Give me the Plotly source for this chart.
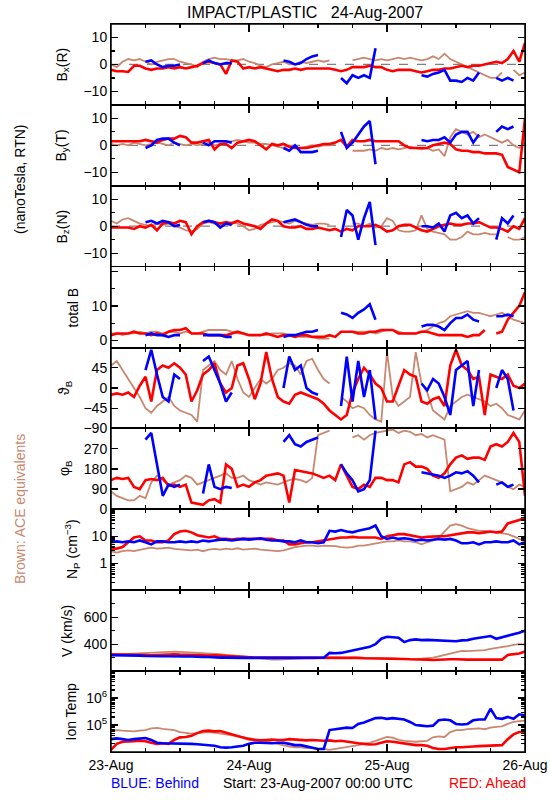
import pandas as pd
import plotly.graph_objects as go
from plotly.subplots import make_subplots

N = None
START = "2007-08-23 00:00"
END = "2007-08-26 00:00"
times = pd.date_range(START, periods=73, freq="h")

# ---------------- data (hourly, 23-Aug 00:00 .. 26-Aug 00:00) ----------------
bx_red = [-2,-2.5,-2.5,-2.8,-0.5,-0.5,-1.5,-2,-1.5,-1.5, -1,-1.5,-1,-1.5,-1,-0.5,0.5,1,0.5,0,
          -3.5,1.5,1,-1.5,-1,-1.5,-1,-1.5,-2,-2.5, -2,-2,-1.5,-2,-1.5,-1.5,-1.5,-1.5,-1.5,-2,
          -2.5,-2,-1,-1,-1,-0.5,-1,-1,-2,-2.5, -2,-2,-2,-2.5,-3,-2.5,-2,-2,-1.5,-1.5,
          -1,-0.5,-1,-0.5,-0.5,0,0.5,1,0.5,2, 5,1,8]
bx_blue = [N,N,N,N,N,N,1,1.5,0,-1, -0.5,-0.5,0,N,N,N,0.5,1.5,0.5,0,
           0.5,0.5,N,N,N,N,N,N,N,N, 1.5,1,0,0.5,2,3,3.5,N,N,N,
           -5,-7,-4,-5,-4,-5,6,N,N,N, N,N,N,N,-4,-4.5,-3.5,-3,-2,-6,
           -6,-6.5,-5,-6,-3,N,N,-5,-6,-5, -6,N,N]
bx_brown = [0,-1,1,2,1.5,2,1,0,1,1.5, 2,2,1,0.5,0,-1,1,2,2.5,2,
            2,1.5,1.5,2,1,0.5,-0.5,-1,0,0.5, 1,0,0,1,0.5,1,1.5,1,1.5,N,
            N,N,1.5,2,2.5,2,1.5,2,1.5,2, 2.5,2,2.5,2,1.5,2,3,2,4,2,
            1,0,-1,-2,-3,-4,-5,-5,-3,N, -2,-4,-3]

by_red = [1.5,1.5,1.5,1.5,1.5,1.5,2,1.5,1,2, 2.5,2.5,3.5,3,1,1,1.5,2,-1.5,0.5,
          0.5,-1,1,1.5,2,1.5,0,-1.5,0.5,0, 0.5,-0.5,-1,-1,-1,-0.5,0,0.5,0.5,1,
          2,-0.5,2,1.5,1.5,2,1.5,1.5,1.5,1.5, 1.5,0,-1,-1,-1,-1,0,0.5,1,0.5,
          -1.5,-2,-2,-2.5,-2.5,-3,-3,-3,-3.5,-8, -9,-10,10]
by_blue = [N,N,N,N,N,N,-1,0,2,2.5, 2.5,1,0,N,N,N,1,0,1.5,1.5,
           1.5,1,N,N,N,N,N,N,N,N, -1,-2,0,-2.5,-2.5,-2.5,-2,N,N,N,
           5,-1,1,4,7,9,-7,N,N,N, N,N,N,N,2,1.5,2,2,3,1,
           4,5,5,1,4,N,N,5,7,6, 7,N,N]
by_brown = [0.5,0,0.5,0,1,0.5,0,0.5,1,0.5, 0,1,0.5,0,0.5,0,0.5,1,0,0.5,
            1,1.5,2,1.5,1,1,0.5,0.5,0,-0.5, -1,0,-0.5,-1,-0.5,0,-0.5,0,0,0.5,
            N,N,-2,-2,-2,-1.5,-2,-1,-1.5,-1, -1.5,-1,-0.5,-1,-1.5,-1,-2,-1.5,-4,3,
            6,5,4,5,3,4,3,2,1,2, 0,-1,1]

bz_red = [-0.5,-0.5,-0.5,-0.5,-1,0,-0.5,0.5,-1.5,1, 1.5,1,2,1.5,-3,0,1.5,2,1.5,1,
          1.5,1,2,1,0.5,0,-1,1,2.5,2, 0,-0.5,-0.5,0,-1,-1,-0.5,-1,-1.5,-1,
          -2,-1,-1.5,0,0,0,0.5,-0.5,-2,-1.5, 0,0.5,0.5,-0.5,-1.5,-2,-1,0,0.5,1,
          0.5,0.5,1,1,1.5,0.5,-0.5,-0.5,-1,-2, 0,-1,3]
bz_blue = [N,N,N,N,N,N,1.5,2,1,2, 1.5,0,0.5,N,N,N,1.5,2,1.5,-0.5,
           1,0.5,N,N,N,N,N,N,N,N, 1.5,2,2.5,1.5,0.5,0,0,N,N,N,
           -4,6,4,-5,3,9,-7,N,N,N, N,N,N,N,0,0,-0.5,1,-2,4,
           5,3,4,1,3,N,N,-5,3,1, 4,N,N]
bz_brown = [2,1,2.5,3,2,1,0.5,0,1,0.5, 1,0,-0.5,-1.5,-2,-1,1,1.5,1,0.5,
            1,1.5,1,0,-1.5,-1,0.5,1,1.5,2, 1.5,1,2,1.5,1,0.5,1,1,0.5,N,
            N,N,1,1,0,1,-0.5,0,3,2, -1.5,-2,-2,-1.5,4,-1,-2,-2.5,-3,-5,
            -5,-4,-2,-3,-3,-2.5,-3,-3,N,-4, -5,-5,-4]

bt_red = [1.5,2,2,2,2.5,2,2,1.5,2,1.5, 2.5,3,3,3.5,2,2,2,1.5,1.5,1.5,
          1.5,2,2.5,2,1.5,1.5,1.5,2,1.5,1, 1.5,1.5,1,1.5,1.5,1,1,1,1.5,1,
          2.5,2.5,2.5,2,2,2.5,2.5,3,3,3, 2,2,2,2,2.5,2.5,2,1.5,1.5,1.5,
          1.5,1.5,1,1.5,1.5,3,N,2,2.5,6, 8,10,14]
bt_blue = [N,N,N,N,N,N,1.5,2,1.5,1.5, 1,1.5,1.5,N,N,N,1.5,1.5,1.5,1.5,
           1,1,N,N,N,N,N,N,N,N, 1,1.5,1.5,2,2.5,2.5,3,N,N,N,
           8,7.5,6.5,8,9,10.5,6,N,N,N, N,N,N,N,4,4.5,4.5,4,3,5,
           6.5,6.5,7.5,6,5.5,N,N,7,7,7.5, 7,N,N]
bt_brown = [2,2,1.5,2,2,2.5,2,2.5,2.5,2, 2.5,2.5,2,2.5,2,2,2.5,3,3,3,
            3,2.5,2,2,1.5,1.5,1.5,1.5,2,2, 2,1.5,1.5,1,1,1,0.5,0.5,0.5,N,
            N,N,2.5,2.5,2.5,2.5,2,2.5,3,3, 2.5,2,2,2,2.5,3,4,5,5.5,7,
            7.5,8,8.5,8,8,7.5,7,7.5,8,7, 6,5.5,5]

th_red = [-15,-12,-15,-10,-20,5,25,-30,40,50, 45,55,45,30,-30,-5,30,40,55,10,
          -10,0,50,55,20,-25,10,80,20,-20, -30,-35,-15,-10,-15,-20,-25,-35,-50,-60,
          -70,-60,-10,20,45,30,10,0,-30,-30, 5,40,30,25,-30,-35,-25,-20,-40,50,
          85,50,40,20,25,-60,30,25,20,30, 5,0,10]
th_blue = [N,N,N,N,N,N,40,85,30,-20, -30,30,20,N,N,N,60,70,40,10,
           -30,-10,N,N,N,N,N,N,N,N, 0,70,40,50,0,-10,-15,N,N,N,
           -40,70,-30,60,-20,40,-70,N,N,N, N,N,N,N,10,-5,20,10,-20,-60,
           40,50,60,-40,40,N,N,0,40,20, -50,N,N]
th_brown = [50,60,40,20,0,-20,-45,-55,-40,-30, -20,-40,-50,-55,-60,-75,40,50,60,40,
            30,60,20,-10,-20,0,20,10,20,40, 45,55,50,30,60,65,40,20,10,N,
            -20,-30,-45,-40,-45,-60,-70,-75,80,-20, -40,-30,-20,80,10,-10,-50,-60,-70,-40,
            -30,-20,-15,-20,-25,-30,-40,-35,-45,-60, -65,-70,-50]

ph_red = [130,140,135,140,100,90,130,135,130,140, 105,110,100,110,30,25,20,40,45,30,
          200,180,100,110,100,120,130,150,155,160, 150,30,175,170,165,160,150,140,150,130,
          200,150,100,90,110,100,140,140,130,130, 120,200,210,190,190,180,150,140,160,200,
          230,240,225,230,230,220,280,290,280,300, 340,300,60]
ph_blue = [N,N,N,N,N,N,310,340,200,60, 110,100,110,N,N,N,70,200,100,90,
           100,95,N,N,N,N,N,N,N,N, 300,330,290,280,300,310,320,N,N,N,
           200,160,130,80,90,130,350,N,N,N, N,N,N,N,165,160,155,150,140,150,
           165,160,170,150,120,N,N,110,120,100, 110,N,N]
ph_brown = [80,60,50,40,40,60,50,120,150,130, 110,120,130,150,140,110,120,130,140,150,
            160,140,140,150,130,120,110,120,115,110, 120,130,135,130,120,140,330,340,350,N,
            N,N,320,330,310,330,340,345,350,355, 340,350,345,330,335,320,330,320,310,80,
            90,100,120,110,130,150,140,130,120,100, 90,110,100]

np_red = [3.5,3.5,4,6,9,10,7,7,6,6, 7,12,15,16,14,11,10,9,10,8,
          8,7.5,8,8,8.5,8.5,8,8.5,8,7, 7,5,5,5.5,6,6,6.5,7,8,8.5,
          9,9,9.5,9,9,9,9,8,10,11, 12,12,11,10,9,9.5,10,10,10,11,
          12,13,14,14,13,14,15,14,15,30, 35,40,50]
np_blue = [6,6.5,6,6.5,6,7,6,5,6.5,6.5, 6,6,6.5,6,6.5,6,7,6.5,7,7.5,
           7.5,7,7.5,8,7.5,8,8.5,7.5,7,7, 6.5,6.5,6,7,6,6,5.5,6,16,15,
           17,15,14,16,18,20,25,10,8,9, 8,8.5,8,7,7.5,7,7.5,8,7.5,8,
           7,5.5,5.5,6,5,6,6,6.5,6,6, 7,5,6]
np_brown = [2.8,2.5,2.8,3,2.8,3.2,3.5,3.8,3.5,3.6, 3.8,3.4,3.2,3,3,3.2,2.8,3.2,3.4,3.2,
            3.5,3.3,3.6,3.2,3.3,3.5,3.2,3,2.8,2.8, 3,3.5,4,4.2,4.5,4.5,4.2,4.5,4.5,4.3,
            4,3.8,4,4.5,4.5,5,5.5,6,6.5,6.5, 7,6.5,6.5,6,5,6,7,9,15,25,
            28,25,20,18,16,16,15,14,13,12, 10,8,7]

v_red = [325,325,320,320,320,322,320,318,320,322, 325,325,322,320,320,318,318,315,318,315,
         310,308,305,305,302,300,300,300,298,298, 300,298,298,300,298,298,300,300,298,300,
         302,300,298,298,295,295,292,292,290,292, 292,290,288,288,285,285,282,285,285,288,
         288,285,285,285,285,285,285,285,285,320, 325,330,345]
v_blue = [318,318,315,315,318,315,312,310,310,310, 310,308,308,308,308,305,305,305,300,300,
          300,298,298,298,298,298,298,298,298,298, 298,298,298,298,298,298,300,300,335,332,
          335,345,350,365,375,380,400,440,455,450, 448,415,430,435,430,432,430,428,425,425,
          422,428,430,440,445,450,460,440,450,460, 470,485,500]
v_brown = [320,325,325,328,330,335,338,340,342,342, 345,345,342,340,340,338,335,330,328,325,
           320,318,315,310,305,300,292,290,285,285, 288,290,290,292,295,295,298,298,300,300,
           298,298,300,300,298,300,298,300,298,295, 292,290,288,290,292,295,300,310,320,330,
           345,350,348,350,352,355,365,370,380,385, 395,400,398]

t_red = [12000,20000,24000,24000,25000,26000,25000,22000,20000,21000,
         20000,28000,35000,36000,40000,50000,60000,62000,58000,60000,
         52000,45000,40000,33000,30000,28000,27000,28000,29000,28000,
         28000,30000,29000,28000,27000,28000,27000,26000,27000,25000,
         26000,24000,22000,21000,20000,19000,19500,22000,25000,24000,
         22000,21000,19000,18000,18000,17000,14000,13000,13000,14000,
         15000,15000,16000,16000,16500,17000,17000,17500,18000,30000,
         45000,55000,55000]
t_blue = [30000,32000,30000,28000,30000,32000,33000,28000,22000,21000,
          21000,20000,20000,20000,20000,19500,19000,18000,17000,15000,
          14500,15000,16000,17000,20000,22000,22000,21000,21000,22000,
          22000,20000,18000,18000,16000,14000,13000,13000,65000,70000,
          75000,80000,78000,110000,125000,150000,180000,185000,170000,180000,
          170000,160000,130000,100000,95000,90000,95000,150000,160000,150000,
          110000,105000,110000,150000,160000,160000,400000,180000,170000,200000,
          170000,250000,230000]
t_brown = [60000,65000,62000,60000,58000,62000,65000,75000,78000,72000,
           70000,65000,55000,50000,48000,50000,52000,55000,52000,48000,
           45000,40000,36000,35000,32000,30000,28000,25000,22000,20000,
           18000,16000,15000,15000,14000,14000,13000,13000,12000,13000,
           14000,15000,16000,18000,20000,22000,26000,30000,36000,34000,
           28000,26000,25000,24000,25000,26000,35000,38000,36000,55000,
           65000,65000,70000,72000,75000,70000,80000,85000,90000,110000,
           130000,140000,145000]

# log-axis minor tick positions
np_minor = [0.2,0.3,0.4,0.5,0.6,0.7,0.8,0.9, 2,3,4,5,6,7,8,9, 20,30,40,50,60,70,80,90]
t_minor = [2e4,3e4,4e4,5e4,6e4,7e4,8e4,9e4, 2e5,3e5,4e5,5e5,6e5,7e5,8e5,9e5,
           2e6,3e6,4e6,5e6,6e6,7e6,8e6,9e6]

# ---------------- figure ----------------
BROWN = "#C8876E"
RED = "#FF0000"
BLUE = "#0000FF"
FONT = "Liberation Sans"

panels = [
    (bx_brown, bx_red, bx_blue),
    (by_brown, by_red, by_blue),
    (bz_brown, bz_red, bz_blue),
    (bt_brown, bt_red, bt_blue),
    (th_brown, th_red, th_blue),
    (ph_brown, ph_red, ph_blue),
    (np_brown, np_red, np_blue),
    (v_brown, v_red, v_blue),
    (t_brown, t_red, t_blue),
]

fig = make_subplots(rows=9, cols=1, shared_xaxes=True, vertical_spacing=0)

for i, (br, rd, bl) in enumerate(panels, start=1):
    fig.add_trace(go.Scatter(x=times, y=br, mode="lines", line=dict(color=BROWN, width=1.8),
                             hoverinfo="skip"), row=i, col=1)
    fig.add_trace(go.Scatter(x=times, y=rd, mode="lines", line=dict(color=RED, width=2.6),
                             hoverinfo="skip"), row=i, col=1)
    fig.add_trace(go.Scatter(x=times, y=bl, mode="lines", line=dict(color=BLUE, width=2.6),
                             hoverinfo="skip"), row=i, col=1)

axis_common = dict(showline=True, linecolor="black", linewidth=1, mirror="ticks",
                   ticks="inside", tickcolor="black", tickwidth=1.3, ticklen=7,
                   showgrid=False, zeroline=False, automargin=False,
                   tickfont=dict(family=FONT, size=14, color="black"))

yspecs = [
    dict(range=[-15, 15], tickvals=[-10, 0, 10], minor=dict(tick0=0, dtick=5)),
    dict(range=[-15, 15], tickvals=[-10, 0, 10], minor=dict(tick0=0, dtick=5)),
    dict(range=[-15, 15], tickvals=[-10, 0, 10], minor=dict(tick0=0, dtick=5)),
    dict(range=[-2.1, 21.4], tickvals=[0, 10, 20], ticktext=["0", "10", ""],
         minor=dict(tick0=0, dtick=5)),
    dict(range=[-90, 90], tickvals=[-90, -45, 0, 45], minor=None),
    dict(range=[0, 360], tickvals=[0, 90, 180, 270], minor=None),
    dict(type="log", range=[-1, 2], tickvals=[0.1, 1, 10, 100], ticktext=["", "1", "10", ""],
         minor=dict(tickmode="array", tickvals=np_minor)),
    dict(range=[200, 800], tickvals=[400, 600], minor=dict(tick0=0, dtick=100)),
    dict(type="log", range=[4, 7], tickvals=[1e4, 1e5, 1e6, 1e7],
         ticktext=["", "10<sup>5</sup>", "10<sup>6</sup>", ""],
         minor=dict(tickmode="array", tickvals=t_minor)),
]

for i, spec in enumerate(yspecs, start=1):
    spec = dict(spec)
    minor = spec.pop("minor")
    ya = dict(axis_common)
    ya.update(spec)
    ya["tickmode"] = "array"
    if minor is not None:
        ya["minor"] = dict(ticks="inside", ticklen=4, tickwidth=1.2, tickcolor="black",
                           showgrid=False, **minor)
    fig.update_yaxes(ya, row=i, col=1)

for i in range(1, 10):
    xa = dict(axis_common)
    xa.update(type="date", range=[START, END], tick0=START, dtick=86400000,
              tickformat="%d-%b", ticklen=8,
              minor=dict(ticks="inside", ticklen=4, tickwidth=1.2, tickcolor="black",
                         dtick=21600000, showgrid=False))
    fig.update_xaxes(xa, row=i, col=1)

# dashed zero lines in the three component panels
for i in range(1, 4):
    fig.add_shape(type="line", xref="x" if i == 1 else f"x{i}", yref="y" if i == 1 else f"y{i}",
                  x0=START, x1=END, y0=0, y1=0, layer="below",
                  line=dict(color="#7F7F7F", width=1.3, dash="dash"))

# outer frame around the stack of panels
fig.add_shape(type="rect", xref="paper", yref="paper", x0=0, x1=1, y0=0, y1=1,
              line=dict(color="black", width=1.5), fillcolor="rgba(0,0,0,0)", layer="above")

# page coordinates of the plot area
PX_L, PX_R, PX_T, PX_B = 111, 525, 24, 752
FIG_W, FIG_H = 550, 800


def px(xp):
    return (xp - PX_L) / (PX_R - PX_L)


def py(yp):
    return (PX_B - yp) / (PX_B - PX_T)


def label(text, xp, yp, color="black", size=14, angle=-90):
    fig.add_annotation(text=text, x=px(xp), y=py(yp), xref="paper", yref="paper",
                       showarrow=False, textangle=angle, xanchor="center", yanchor="middle",
                       font=dict(family=FONT, size=size, color=color))


label("IMPACT/PLASTIC   24-Aug-2007", 305, 12, size=16, angle=0)
label("B<sub>x</sub>(R)", 62, 64.5)
label("B<sub>y</sub>(T)", 62, 145.5)
label("B<sub>z</sub>(N)", 62, 226.5)
label("total B", 73, 307.5)
label("ϑ<sub>B</sub>", 65, 388)
label("φ<sub>B</sub>", 65, 468)
label("N<sub>P</sub> (cm<sup>−3</sup>)", 72, 549)
label("V (km/s)", 67, 631)
label("Ion Temp", 70, 711.5)
label("(nanoTesla, RTN)", 20, 180)
label("Brown: ACE equivalents", 20, 509, color=BROWN)
label("BLUE: Behind", 155, 783, color=BLUE, angle=0)
label("Start: 23-Aug-2007 00:00 UTC", 318, 783, angle=0)
label("RED: Ahead", 487.5, 783, color=RED, angle=0)

fig.update_layout(width=FIG_W, height=FIG_H, showlegend=False, hovermode=False,
                  margin=dict(l=PX_L, r=FIG_W - PX_R, t=PX_T, b=FIG_H - PX_B),
                  plot_bgcolor="white", paper_bgcolor="white",
                  font=dict(family=FONT, size=14, color="black"))

fig.write_html("out.html", config={"displayModeBar": False, "staticPlot": True},
               post_script="document.body.style.margin='0';document.body.style.overflow='hidden';")
